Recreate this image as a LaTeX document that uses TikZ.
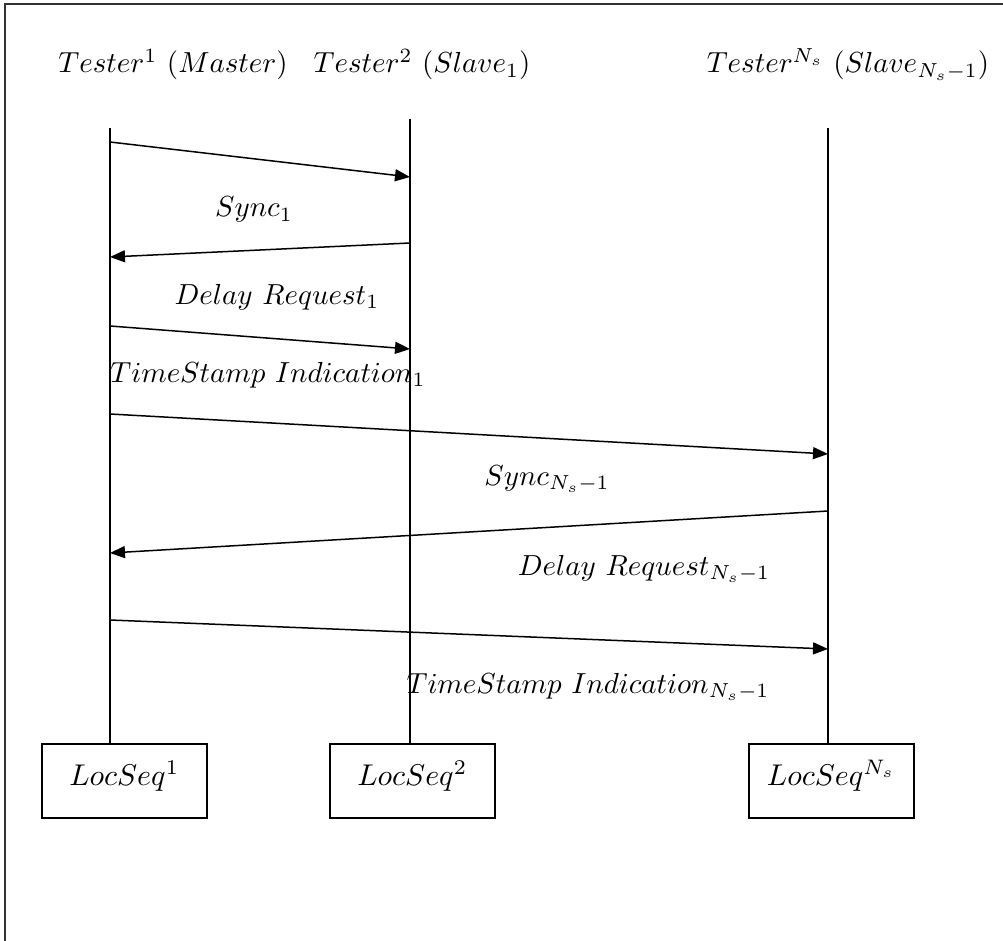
\documentclass[tikz,border=0pt]{standalone}
\usetikzlibrary{arrows.meta}
% enlarged math text
\newcommand\bigmath[1]{\scalebox{2.9}{$#1$}}
\newcommand\boxmath[1]{\scalebox{3.0}{$#1$}}
\begin{document}
\begin{tikzpicture}[x=1pt,y=-1pt,
  frameline/.style={line width=2.2pt, draw=black!80},
  lifeline/.style={line width=1.5pt},
  msg/.style={line width=1.5pt, -{Triangle[length=15pt,width=12pt]}},
  seqbox/.style={draw, line width=1.5pt, anchor=north west, inner sep=0pt,
    minimum width=165pt, minimum height=74pt, text height=24pt, text depth=15pt},
  lbl/.style={anchor=base, inner sep=0pt}]
\useasboundingbox (0,0) rectangle (1003,941);

% outer frame (top and left edges)
\draw[frameline] (1003,4) -- (5,4) -- (5,941);

% participants
\node[lbl] (h1) at (173,73) {\bigmath{Tester^{1}\ (Master)}};
\node[lbl] (h2) at (422,73) {\bigmath{Tester^{2}\ (Slave_{1})}};
\node[lbl] (h3) at (848,73) {\bigmath{Tester^{N_s}\ (Slave_{N_s-1})}};

% local sequence boxes
\node[seqbox] (b1) at (41,743) {\boxmath{LocSeq^{1}}};
\node[seqbox] (b2) at (329,743) {\boxmath{LocSeq^{2}}};
\node[seqbox] (b3) at (748,743) {\boxmath{LocSeq^{N_s}}};

% lifelines
\coordinate (t1) at (110,128);
\coordinate (t2) at (410,119);
\coordinate (t3) at (828,128);
\draw[lifeline] (t1) -- (t1 |- b1.north);
\draw[lifeline] (t2) -- (t2 |- b2.north);
\draw[lifeline] (t3) -- (t3 |- b3.north);

% message end points
\coordinate (m1a) at (110,142); \coordinate (m1b) at (410,177);
\coordinate (m2a) at (410,243); \coordinate (m2b) at (110,257);
\coordinate (m3a) at (110,326); \coordinate (m3b) at (410,349);
\coordinate (m4a) at (110,414); \coordinate (m4b) at (828,454);
\coordinate (m5a) at (828,511); \coordinate (m5b) at (110,553);
\coordinate (m6a) at (110,620); \coordinate (m6b) at (828,649);

% messages
\draw[msg] (m1a) -- (m1b);
\draw[msg] (m2a) -- (m2b);
\draw[msg] (m3a) -- (m3b);
\draw[msg] (m4a) -- (m4b);
\draw[msg] (m5a) -- (m5b);
\draw[msg] (m6a) -- (m6b);

% message labels
\node[lbl] (l1) at (254,217) {\bigmath{Sync_{1}}};
\node[lbl] (l2) at (277,304) {\bigmath{Delay\ Request_{1}}};
\node[lbl] (l3) at (268,382) {\bigmath{TimeStamp\ Indication_{1}}};
\node[lbl] (l4) at (547,485) {\bigmath{Sync_{N_s-1}}};
\node[lbl] (l5) at (644,575) {\bigmath{Delay\ Request_{N_s-1}}};
\node[lbl] (l6) at (588,693) {\bigmath{TimeStamp\ Indication_{N_s-1}}};
\end{tikzpicture}
\end{document}
